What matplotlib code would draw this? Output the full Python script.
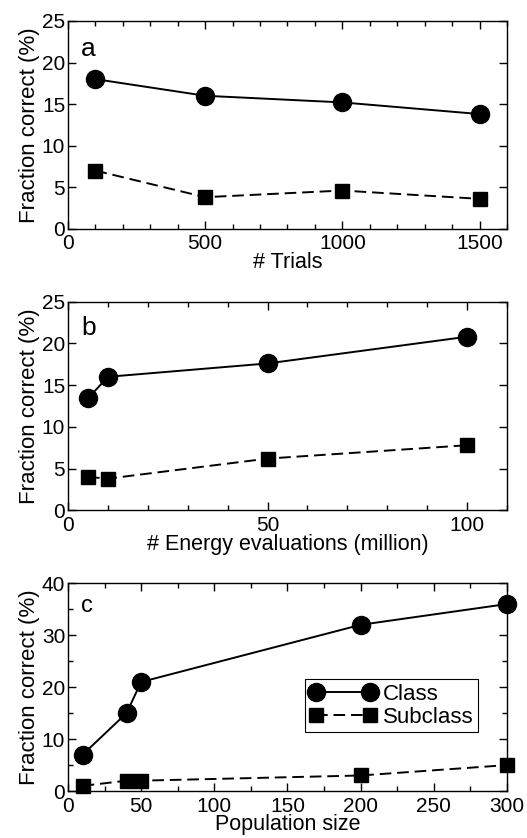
import numpy as np
import matplotlib

matplotlib.use("Agg")
import matplotlib.pyplot as plt
from matplotlib.ticker import MultipleLocator

plt.rcParams["font.family"] = ["Liberation Sans", "DejaVu Sans"]

# panel a: number of trials
trials = [100, 500, 1000, 1500]
class_a = [18.0, 16.0, 15.2, 13.8]
sub_a = [7.0, 3.8, 4.6, 3.6]

# panel b: energy evaluations (million)
evals = [5, 10, 50, 100]
class_b = [13.4, 16.0, 17.6, 20.8]
sub_b = [4.0, 3.8, 6.2, 7.8]

# panel c: population size
popsize = [10, 40, 50, 200, 300]
class_c = [7, 15, 21, 32, 36]
sub_c = [1, 2, 2, 3, 5]

FS = 15


def _style(ax, xlim, ylim, xmaj, xmin, ymaj, ymin, xlabel, tag, tag_y, tag_fs):
    ax.set_xlim(*xlim)
    ax.set_ylim(*ylim)
    ax.xaxis.set_major_locator(MultipleLocator(xmaj))
    ax.xaxis.set_minor_locator(MultipleLocator(xmin))
    ax.yaxis.set_major_locator(MultipleLocator(ymaj))
    if ymin:
        ax.yaxis.set_minor_locator(MultipleLocator(ymin))
    ax.tick_params(which="both", direction="in", top=True, right=True,
                   labelsize=FS)
    ax.tick_params(axis="x", pad=4)
    ax.tick_params(axis="y", pad=2)
    ax.tick_params(which="major", length=6, width=1)
    ax.tick_params(which="minor", length=3.5, width=1)
    ax.set_xlabel(xlabel, fontsize=FS + 0.5, labelpad=-1)
    ax.set_ylabel("Fraction correct (%)", fontsize=16, labelpad=1)
    ax.text(0.03, tag_y, tag, transform=ax.transAxes, fontsize=tag_fs,
            va="baseline", ha="left")
    for sp in ax.spines.values():
        sp.set_linewidth(1)


def _plot(ax, x, yc, ys):
    ax.plot(x, yc, "-o", color="black", lw=1.4, ms=13, label="Class",
            clip_on=False, zorder=3)
    ax.plot(x, ys, "--s", color="black", lw=1.4, ms=10.5, dashes=(6, 3),
            label="Subclass", clip_on=False, zorder=3)


fig = plt.figure(figsize=(5.27, 8.38), dpi=100)
ax_a = fig.add_axes([0.129, 0.727, 0.833, 0.248])
ax_b = fig.add_axes([0.129, 0.391, 0.833, 0.249])
ax_c = fig.add_axes([0.129, 0.056, 0.833, 0.248])

_plot(ax_a, trials, class_a, sub_a)
_style(ax_a, (0, 1600), (0, 25), 500, 100, 5, None, "# Trials", "a", 0.83, 19)

_plot(ax_b, evals, class_b, sub_b)
_style(ax_b, (0, 110), (0, 25), 50, 10, 5, None,
       "# Energy evaluations (million)", "b", 0.84, 19)

_plot(ax_c, popsize, class_c, sub_c)
_style(ax_c, (0, 300), (0, 40), 50, 25, 10, 5, "Population size", "c", 0.86, 17)
leg = ax_c.legend(loc="center right", bbox_to_anchor=(0.934, 0.41),
                  fontsize=FS + 1, numpoints=2, handlelength=3.0,
                  fancybox=False, edgecolor="black", framealpha=1,
                  borderpad=0.2, labelspacing=0.1, handletextpad=0.3,
                  borderaxespad=0)
leg.get_frame().set_linewidth(0.8)

plt.savefig("out.png", dpi=100)
plt.close()
